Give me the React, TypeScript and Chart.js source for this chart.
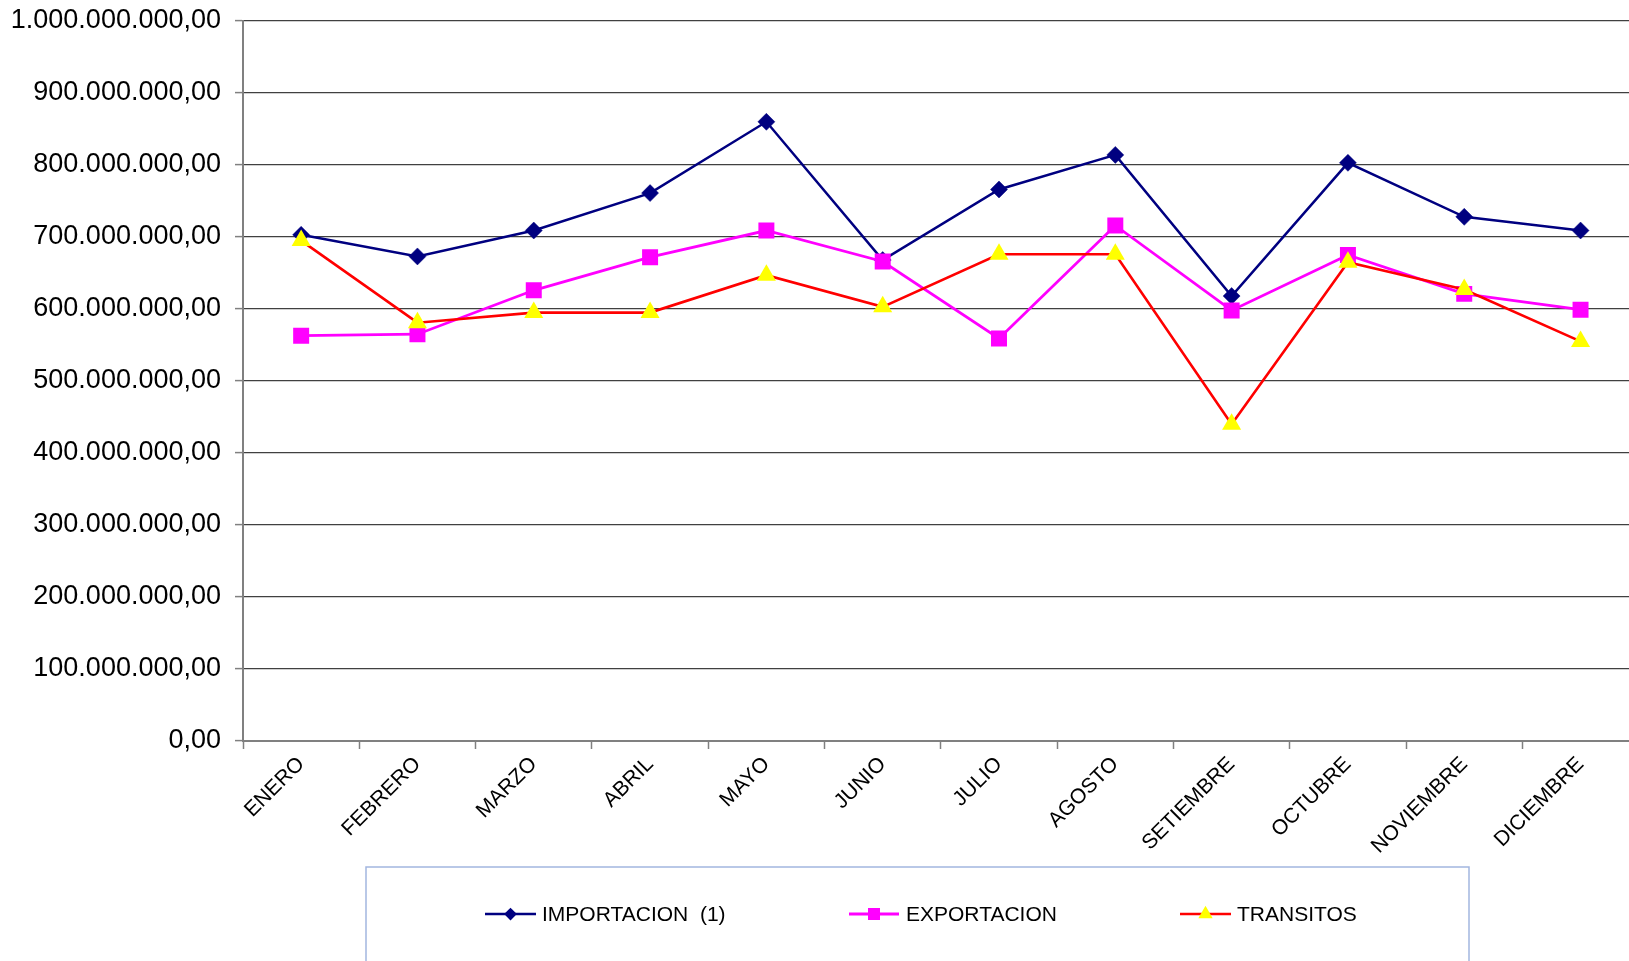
import React, { useEffect, useRef } from "react";
import { Chart, registerables } from "chart.js";

Chart.register(...registerables);

const categories = [
  "ENERO", "FEBRERO", "MARZO", "ABRIL", "MAYO", "JUNIO",
  "JULIO", "AGOSTO", "SETIEMBRE", "OCTUBRE", "NOVIEMBRE", "DICIEMBRE",
];

const importacion = [
  703000000, 673000000, 709000000, 761000000, 860000000, 668000000,
  766000000, 814000000, 618000000, 803000000, 728000000, 709000000,
];

const exportacion = [
  563000000, 565000000, 626000000, 672000000, 709000000, 666000000,
  559000000, 716000000, 598000000, 675000000, 621000000, 599000000,
];

const transitos = [
  695000000, 581000000, 595000000, 595000000, 647000000, 603000000,
  676000000, 676000000, 440000000, 665000000, 627000000, 555000000,
];

const seriesLabels = ["IMPORTACION  (1)", "EXPORTACION", "TRANSITOS"];

const FONT = "'Liberation Sans', Arial, sans-serif";

function formatValue(v: number): string {
  const s = Math.round(v).toString();
  return s.replace(/\B(?=(\d{3})+(?!\d))/g, ".") + ",00";
}

const legendPlugin = {
  id: "customLegend",
  afterDraw(chart: any) {
    const ctx = chart.ctx;
    ctx.save();
    ctx.strokeStyle = "#a3b6df";
    ctx.lineWidth = 1.5;
    ctx.beginPath();
    ctx.moveTo(366, 985);
    ctx.lineTo(366, 867);
    ctx.lineTo(1469, 867);
    ctx.lineTo(1469, 985);
    ctx.stroke();

    const y = 914;
    const items = [
      { x0: 485, x1: 536, tx: 542 },
      { x0: 849, x1: 899, tx: 906 },
      { x0: 1180, x1: 1231, tx: 1237 },
    ];
    chart.data.datasets.forEach((ds: any, i: number) => {
      const it = items[i];
      if (!it) return;
      ctx.strokeStyle = ds.borderColor;
      ctx.lineWidth = ds.borderWidth;
      ctx.beginPath();
      ctx.moveTo(it.x0, y);
      ctx.lineTo(it.x1, y);
      ctx.stroke();
      const cx = (it.x0 + it.x1) / 2;
      ctx.fillStyle = ds.pointBackgroundColor;
      const r = ds.pointRadius * 0.75;
      ctx.beginPath();
      if (ds.pointStyle === "rectRot") {
        ctx.moveTo(cx, y - r);
        ctx.lineTo(cx + r, y);
        ctx.lineTo(cx, y + r);
        ctx.lineTo(cx - r, y);
        ctx.closePath();
      } else if (ds.pointStyle === "rect") {
        const h = r * Math.SQRT1_2;
        ctx.rect(cx - h, y - h, 2 * h, 2 * h);
      } else {
        ctx.moveTo(cx, y - r);
        ctx.lineTo(cx + r * 0.866, y + r * 0.5);
        ctx.lineTo(cx - r * 0.866, y + r * 0.5);
        ctx.closePath();
      }
      ctx.fill();
      ctx.fillStyle = "#000000";
      ctx.font = `21px ${FONT}`;
      ctx.textBaseline = "middle";
      ctx.textAlign = "left";
      ctx.fillText(ds.label, it.tx, y + 1);
    });
    ctx.restore();
  },
};

export default function App() {
  const canvasRef = useRef<HTMLCanvasElement | null>(null);

  useEffect(() => {
    document.body.style.margin = "0";
    document.body.style.overflow = "hidden";
    document.documentElement.style.overflow = "hidden";
    const canvas = canvasRef.current;
    if (!canvas) return;
    const chart = new Chart(canvas, {
      type: "line",
      data: {
        labels: categories,
        datasets: [
          {
            label: seriesLabels[0],
            data: importacion,
            borderColor: "#000080",
            backgroundColor: "#000080",
            borderWidth: 2.5,
            pointStyle: "rectRot",
            pointRadius: 8.5,
            pointBackgroundColor: "#000080",
            pointBorderColor: "#000080",
            pointBorderWidth: 0.5,
            tension: 0,
            order: 3,
          },
          {
            label: seriesLabels[1],
            data: exportacion,
            borderColor: "#ff00ff",
            backgroundColor: "#ff00ff",
            borderWidth: 2.8,
            pointStyle: "rect",
            pointRadius: 11.3,
            pointBackgroundColor: "#ff00ff",
            pointBorderColor: "#ff00ff",
            pointBorderWidth: 0,
            tension: 0,
            order: 2,
          },
          {
            label: seriesLabels[2],
            data: transitos,
            borderColor: "#ff0000",
            backgroundColor: "#ffff00",
            borderWidth: 2.6,
            pointStyle: "triangle",
            pointRadius: 11,
            pointBackgroundColor: "#ffff00",
            pointBorderColor: "#ffff00",
            pointBorderWidth: 0,
            tension: 0,
            order: 1,
          },
        ],
      },
      options: {
        animation: false,
        responsive: false,
        layout: { padding: { top: 21, left: 0, right: 0, bottom: 0 } },
        plugins: {
          legend: { display: false },
          tooltip: { enabled: false },
        },
        scales: {
          x: {
            offset: true,
            grid: {
              display: true,
              drawOnChartArea: false,
              drawTicks: true,
              offset: true,
              tickLength: 8,
              tickColor: "#808080",
              tickWidth: 1.5,
            },
            border: { color: "#808080", width: 2 },
            ticks: {
              maxRotation: 45,
              minRotation: 45,
              autoSkip: false,
              padding: 3,
              color: "#000000",
              font: { family: FONT, size: 21 },
            },
            afterFit: (scale: any) => {
              scale.height = 220;
              scale.paddingLeft = 0;
              scale.paddingRight = 0;
            },
          },
          y: {
            min: 0,
            max: 1000000000,
            ticks: {
              stepSize: 100000000,
              padding: 14,
              color: "#000000",
              font: { family: FONT, size: 27 },
              callback: (v: any) => formatValue(Number(v)),
            },
            grid: {
              color: "#404040",
              lineWidth: 1.2,
              tickLength: 8,
              tickColor: "#808080",
              tickWidth: 1.5,
            },
            border: { color: "#808080", width: 2 },
            afterFit: (scale: any) => {
              scale.width = 243;
              scale.paddingTop = 0;
              scale.paddingBottom = 0;
            },
          },
        },
      },
      plugins: [legendPlugin],
    });
    return () => chart.destroy();
  }, []);

  return (
    <div style={{ position: "absolute", left: 0, top: 0, width: 1650, height: 961, overflow: "hidden", background: "#ffffff" }}>
      <canvas ref={canvasRef} width={1650} height={961} style={{ width: 1650, height: 961, display: "block" }} />
    </div>
  );
}
